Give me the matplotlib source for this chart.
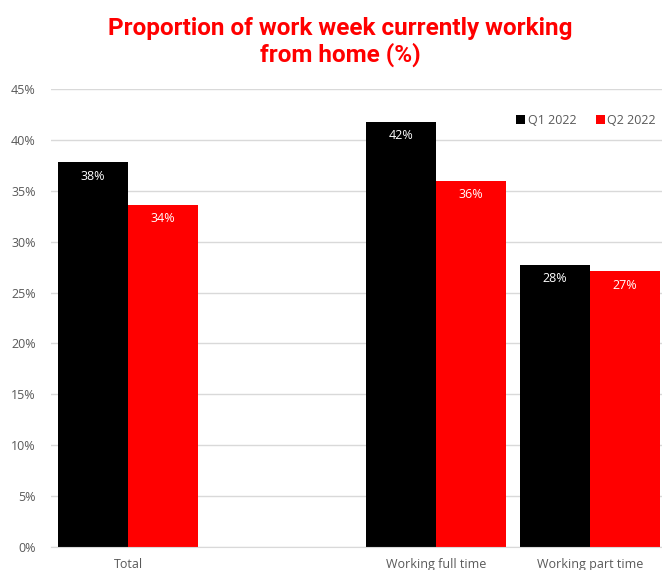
import matplotlib.pyplot as plt
import numpy as np

# data (percent)
categories = ["Total", "", "Working full time", "Working part time"]
q1_2022 = [37.8, np.nan, 41.8, 27.7]
q2_2022 = [33.6, np.nan, 36.0, 27.1]
series_names = ["Q1 2022", "Q2 2022"]
yticks = [0, 5, 10, 15, 20, 25, 30, 35, 40, 45]

plt.rcParams['font.family'] = ['Open Sans', 'DejaVu Sans']

fig = plt.figure(figsize=(6.62, 5.70), dpi=100)
ax = fig.add_axes([51/662, 23/570, 616/662, 458/570])

x = np.arange(len(categories))
w = 0.4545
b1 = ax.bar(x - w/2, q1_2022, w, color="black", label=series_names[0])
b2 = ax.bar(x + w/2, q2_2022, w, color="#ff0000", label=series_names[1])

for bars, vals in ((b1, q1_2022), (b2, q2_2022)):
    for r, v in zip(bars, vals):
        if np.isnan(v):
            continue
        ax.annotate(f"{v:.0f}%", (r.get_x() + r.get_width()/2, v),
                    xytext=(0, -10), textcoords="offset points",
                    ha="center", va="center", color="white", fontsize=9)

ax.set_xlim(-0.5, len(categories) - 0.5)
ax.set_ylim(0, 45)
ax.set_yticks(yticks)
ax.set_yticklabels([f"{t}%" for t in yticks])
ax.set_xticks(x)
ax.set_xticklabels(categories)
ax.tick_params(axis="both", length=0, labelsize=9, colors="#595959")
ax.tick_params(axis="y", pad=11)
ax.tick_params(axis="x", pad=8)
ax.grid(axis="y", color="#d9d9d9", linewidth=1)
ax.set_axisbelow(True)
for s in ("top", "right", "left"):
    ax.spines[s].set_visible(False)
ax.spines["bottom"].set_color("#d9d9d9")

fig.legend(loc="upper right", bbox_to_anchor=(656/662, 1 - 114/570), ncol=2,
           frameon=False, fontsize=9, handlelength=0.7, handleheight=0.7,
           handletextpad=0.2, columnspacing=1.6, labelcolor="#595959",
           borderaxespad=0, borderpad=0)

fig.text(340/662, 1 - 42/570, "Proportion of work week currently working\nfrom home (%)",
         ha="center", va="center", color="#ff0000", fontsize=17.5, fontweight="bold",
         family=["Roboto", "DejaVu Sans"], linespacing=1.15)

fig.savefig("out.png", dpi=100)
